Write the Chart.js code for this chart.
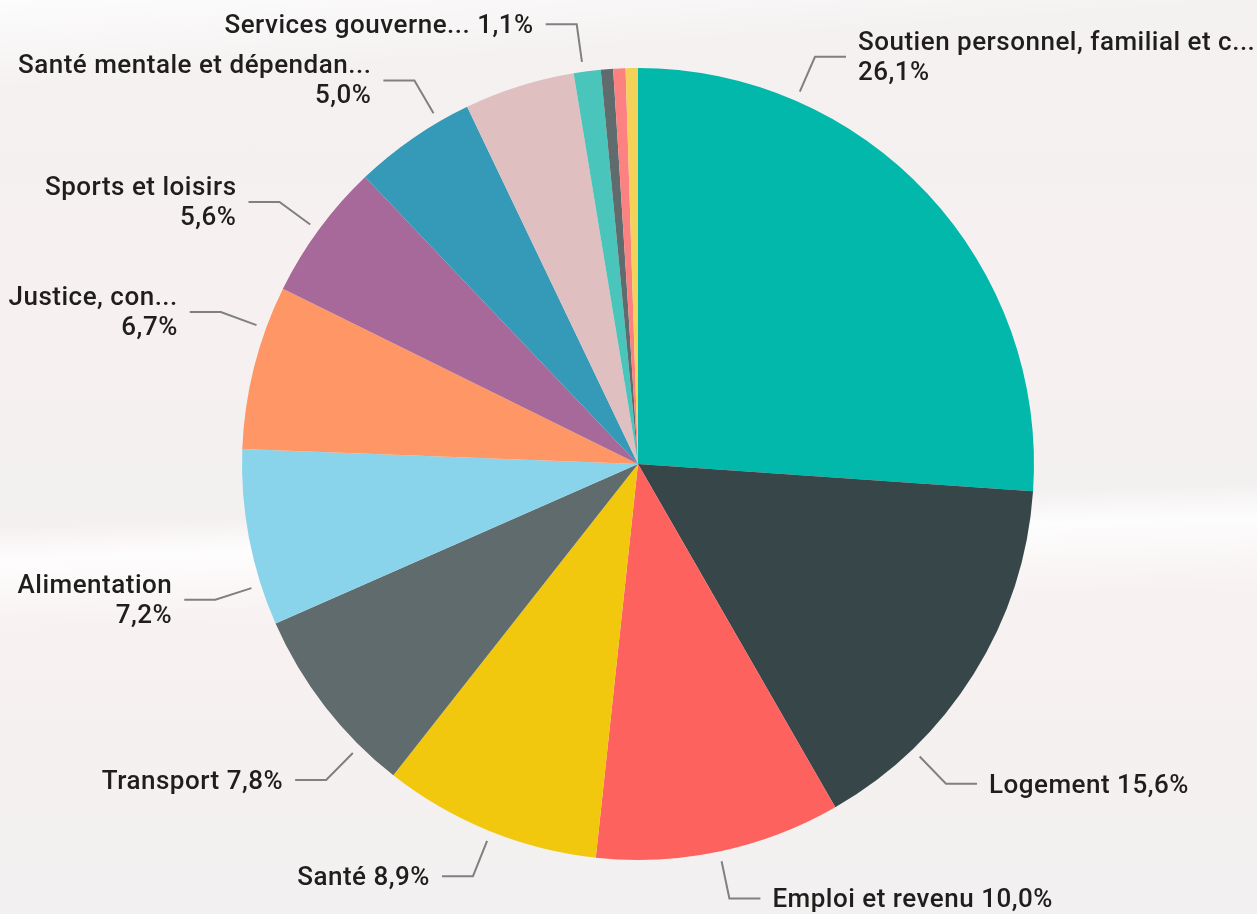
<!DOCTYPE html>
<html>
<head>
<meta charset="utf-8">
<script src="https://cdn.jsdelivr.net/npm/chart.js@4.4.0/dist/chart.umd.min.js"></script>
<style>
  html, body { margin: 0; padding: 0; }
  body {
    width: 1257px; height: 914px; overflow: hidden;
    background:
      linear-gradient(178deg, rgba(255,255,255,0) 55%, rgba(255,255,255,0.85) 58.5%, rgba(255,255,255,0) 66%),
      linear-gradient(176deg, rgba(255,255,255,0.8) 0%, rgba(255,255,255,0) 9%),
      linear-gradient(180deg, #f4f1f1 0%, #f7f0f0 38%, #f3f0f0 54%, #f8f1f1 64%, #f2f0f0 100%);
  }
  canvas { display: block; }
</style>
</head>
<body>
<canvas id="pie" width="1257" height="914"></canvas>
<script>
// categories, clockwise from 12 o'clock
const categories = [
  'Soutien personnel, familial et c...',
  'Logement',
  'Emploi et revenu',
  'Santé',
  'Transport',
  'Alimentation',
  'Justice, con...',
  'Sports et loisirs',
  'Santé mentale et dépendan...',
  'Autre (1)',
  'Services gouverne...',
  'Autre (2)',
  'Autre (3)',
  'Autre (4)'
];
const shares = [26.1, 15.6, 10.0, 8.9, 7.8, 7.2, 6.7, 5.6, 5.0, 4.5, 1.1, 0.5, 0.5, 0.5];
const showLabel = [true, true, true, true, true, true, true, true, true, false, true, false, false, false];
const twoLines = [true, false, false, false, false, true, true, true, true, false, false, false, false, false];

// power bi default palette
const colors = ['#01B8AA', '#374649', '#FD625E', '#F2C80F', '#5F6B6D', '#8AD4EB', '#FE9666',
  '#A66999', '#3599B8', '#DFBFBF', '#4AC5BB', '#5F6B6D', '#FB8281', '#F4D25A'];

// where along each slice the leader line is attached (0 = start, 1 = end)
const leaderAt = [0.25, 0.75, 0.5, 0.49, 0.23, 0.23, 0.74, 0.49, 0.74, 0.5, 0.36, 0.5, 0.5, 0.5];

const fmt = v => v.toFixed(1).replace('.', ',') + '%';

const labelFont = '500 26px Roboto, sans-serif';

const leaderLabels = {
  id: 'leaderLabels',
  afterDatasetsDraw(chart) {
    const ctx = chart.ctx;
    const arcs = chart.getDatasetMeta(0).data;
    ctx.save();
    ctx.font = labelFont;
    ctx.letterSpacing = '0.5px';
    arcs.forEach((arc, i) => {
      if (!showLabel[i]) return;
      const a = arc.startAngle + leaderAt[i] * (arc.endAngle - arc.startAngle);
      const r = arc.outerRadius;
      const cx = arc.x, cy = arc.y;
      const x1 = cx + Math.cos(a) * (r + 10), y1 = cy + Math.sin(a) * (r + 10);
      const x2 = cx + Math.cos(a) * (r + 48), y2 = cy + Math.sin(a) * (r + 48);
      const dir = Math.cos(a) >= 0 ? 1 : -1;
      const x3 = x2 + dir * 31;

      ctx.strokeStyle = '#808080';
      ctx.lineWidth = 2;
      ctx.beginPath();
      ctx.moveTo(x1, y1);
      ctx.lineTo(x2, y2);
      ctx.lineTo(x3, y2);
      ctx.stroke();

      ctx.fillStyle = '#1f1e1d';
      ctx.textAlign = dir > 0 ? 'left' : 'right';
      ctx.textBaseline = 'alphabetic';
      const tx = x3 + dir * 12;
      if (twoLines[i]) {
        ctx.fillText(categories[i], tx, y2 - 7);
        ctx.fillText(fmt(shares[i]), tx, y2 + 23);
      } else {
        ctx.fillText(categories[i] + ' ' + fmt(shares[i]), tx, y2 + 9);
      }
    });
    ctx.restore();
  }
};

new Chart(document.getElementById('pie'), {
  type: 'pie',
  data: {
    labels: categories,
    datasets: [{
      data: shares,
      backgroundColor: colors,
      borderWidth: 0
    }]
  },
  options: {
    responsive: false,
    animation: false,
    layout: { padding: { left: 242, right: 223, top: 68, bottom: 54 } },
    plugins: {
      legend: { display: false },
      tooltip: { enabled: false }
    }
  },
  plugins: [leaderLabels]
});
</script>
</body>
</html>
